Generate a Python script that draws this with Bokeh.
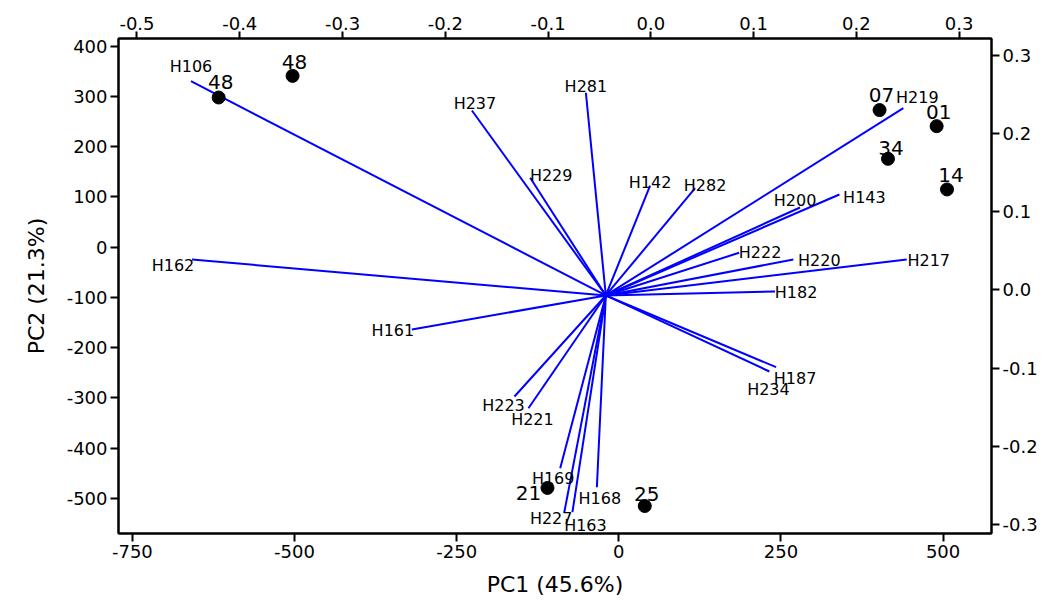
from bokeh.plotting import figure
from bokeh.models import Range1d, LinearAxis, FixedTicker, PrintfTickFormatter, ColumnDataSource
from bokeh.core.properties import value
from bokeh.embed import file_html
from bokeh.resources import INLINE

# ---- data: sample scores (bottom / left axes) ----
sample_names = ["48", "48", "07", "01", "34", "14", "21", "25"]
pc1_scores = [-617, -503, 402, 490, 415, 506, -110, 40]
pc2_scores = [298, 341, 273, 241, 176, 115, -479, -515]

# ---- data: variable loadings (top / right axes) ----
loading_names = ["H106", "H162", "H237", "H281", "H229", "H142", "H282", "H219",
                 "H143", "H200", "H222", "H220", "H217", "H182", "H161", "H223",
                 "H221", "H169", "H227", "H163", "H168", "H187", "H234"]
load_pc1 = [-0.4475, -0.4465, -0.1741, -0.0632, -0.1174, -0.0007, 0.0431, 0.2457,
            0.1835, 0.1452, 0.0859, 0.1387, 0.2490, 0.1209, -0.2325, -0.1327,
            -0.1191, -0.0882, -0.0843, -0.0763, -0.0525, 0.1219, 0.1154]
load_pc2 = [0.2670, 0.0390, 0.2295, 0.2522, 0.1435, 0.1336, 0.1302, 0.2325,
            0.1221, 0.1055, 0.0476, 0.0390, 0.0390, -0.0019, -0.0505, -0.1362,
            -0.1512, -0.2279, -0.2849, -0.2841, -0.2522, -0.0987, -0.1042]
center_pc1 = -0.0438
center_pc2 = -0.0070

# tick labels
bottom_ticks = [-750, -500, -250, 0, 250, 500]
left_ticks = [-500, -400, -300, -200, -100, 0, 100, 200, 300, 400]
top_ticks = [-0.5, -0.4, -0.3, -0.2, -0.1, 0.0, 0.1, 0.2, 0.3]
right_ticks = [-0.3, -0.2, -0.1, 0.0, 0.1, 0.2, 0.3]

# label placement (style, pixels)
load_dx = [0, -19, 3, 0, 21, 0, 10, 14, 25, -5, 21, 26, 22, 21, -19, -11, 4, -7, -13, 13, 3, 19, -1]
load_dy = [-15, 6, -7, -6, -2, -3, -3, -11, 3, -7, 0, 1, 1, 1, 1, 9, 11, 10, 6, 13, 11, 11, 18]
samp_dx = [2, 2, 2, 2, 3, 4, -19, 2]
samp_dy = [-15, -14, -15, -14, -11, -14, 5, -12]

FONT = "DejaVu Sans"

p = figure(width=1040, height=603,
           x_range=Range1d(-771.4, 574.6), y_range=Range1d(-569.7, 415.4),
           x_axis_location=None, y_axis_location=None,
           output_backend="svg", toolbar_location=None,
           min_border_left=118, min_border_right=49, min_border_top=38, min_border_bottom=70)
p.extra_x_ranges = {"load": Range1d(-0.518, 0.3315)}
p.extra_y_ranges = {"load": Range1d(-0.3114, 0.3216)}

p.xgrid.visible = False
p.ygrid.visible = False
p.outline_line_color = "black"
p.outline_line_width = 2
p.outline_line_alpha = 1
p.background_fill_color = "white"
p.border_fill_color = "white"

bottom_axis = LinearAxis(ticker=FixedTicker(ticks=bottom_ticks), axis_label="PC1 (45.6%)",
                         formatter=PrintfTickFormatter(format="%d"))
left_axis = LinearAxis(ticker=FixedTicker(ticks=left_ticks), axis_label="PC2 (21.3%)",
                       formatter=PrintfTickFormatter(format="%d"))
top_axis = LinearAxis(x_range_name="load", ticker=FixedTicker(ticks=top_ticks),
                      formatter=PrintfTickFormatter(format="%.1f"))
right_axis = LinearAxis(y_range_name="load", ticker=FixedTicker(ticks=right_ticks),
                        formatter=PrintfTickFormatter(format="%.1f"))
p.add_layout(bottom_axis, "below")
p.add_layout(left_axis, "left")
p.add_layout(top_axis, "above")
p.add_layout(right_axis, "right")

for ax in [bottom_axis, left_axis, top_axis, right_axis]:
    ax.axis_line_width = 2
    ax.axis_line_color = "black"
    ax.major_tick_line_width = 2
    ax.major_tick_line_color = "black"
    ax.major_tick_out = 8
    ax.major_tick_in = 0
    ax.minor_tick_line_color = None
    ax.major_label_text_font = FONT
    ax.major_label_text_font_size = "18px"
    ax.major_label_text_color = "black"
    ax.major_label_standoff = 3
    ax.axis_label_text_font = FONT
    ax.axis_label_text_font_size = "22px"
    ax.axis_label_text_font_style = "normal"
    ax.axis_label_text_color = "black"

bottom_axis.axis_label_standoff = 11
left_axis.axis_label_standoff = 15
top_axis.major_label_standoff = 2
top_axis.major_tick_out = 7

# loading vectors
lsrc = ColumnDataSource(dict(
    x0=[center_pc1] * len(load_pc1), y0=[center_pc2] * len(load_pc2),
    x1=load_pc1, y1=load_pc2, name=loading_names, dx=load_dx, dy=load_dy))
p.segment(x0="x0", y0="y0", x1="x1", y1="y1", source=lsrc,
          x_range_name="load", y_range_name="load",
          line_color="#0000FF", line_width=2)
p.text(x="x1", y="y1", text="name", x_offset="dx", y_offset="dy", source=lsrc,
       x_range_name="load", y_range_name="load",
       text_align="center", text_baseline="middle",
       text_font=value(FONT), text_font_size="16px", text_color="black")

# sample scores
ssrc = ColumnDataSource(dict(x=pc1_scores, y=pc2_scores, name=sample_names,
                             dx=samp_dx, dy=samp_dy))
p.scatter(x="x", y="y", source=ssrc, size=13, color="black")
p.text(x="x", y="y", text="name", x_offset="dx", y_offset="dy", source=ssrc,
       text_align="center", text_baseline="middle",
       text_font=value(FONT), text_font_size="20px", text_color="black")

open("out.html", "w").write(file_html(p, INLINE))
